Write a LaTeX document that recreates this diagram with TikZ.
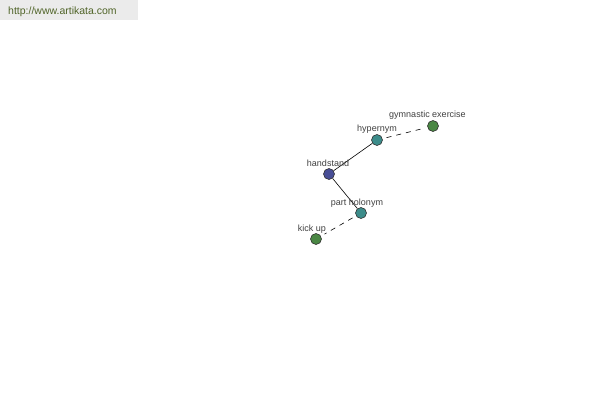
\documentclass[tikz,border=0pt]{standalone}
\usepackage{fontspec}
\setmainfont{Liberation Sans}
\begin{document}
\begin{tikzpicture}[x=1pt,y=-1pt,
  vert/.style={circle,draw=black!80,line width=0.6pt,minimum size=11pt,inner sep=0pt},
  lbl/.style={font=\fontsize{9}{10}\selectfont,text=black!75,inner sep=0pt},
  link/.style={draw=black,line width=0.6pt},
  dlink/.style={draw=black,line width=0.6pt,dash pattern=on 5pt off 5pt,shorten <=4pt,shorten >=4pt}]
\useasboundingbox (0,0) rectangle (600,400);
\fill[black!8] (0,0) rectangle (138,20);
\node[anchor=west,font=\fontsize{10.5}{11}\selectfont,text={rgb,255:red,80;green,100;blue,40},inner sep=0pt] (wm) at (8,11.5) {http://www.artikata.com};
\definecolor{cblue}{RGB}{72,78,150}
\definecolor{cteal}{RGB}{60,140,138}
\definecolor{cgreen}{RGB}{74,135,68}
\node[vert,fill=cblue] (hs) at (329,174) {};
\node[vert,fill=cteal] (hy) at (377,140) {};
\node[vert,fill=cgreen] (ge) at (433,126) {};
\node[vert,fill=cteal] (ph) at (361,213) {};
\node[vert,fill=cgreen] (ku) at (316,239) {};
\draw[link] (hs) -- (hy);
\draw[link] (hs) -- (ph);
\draw[dlink] (hy) -- (ge);
\draw[dlink] (ph) -- (ku);
\node[lbl] (lhs) at (328,163) {handstand};
\node[lbl] (lhy) at (377,129.5) {hypernym};
\node[lbl] (lge) at (427.5,115.5) {gymnastic exercise};
\node[lbl] (lph) at (357,203) {part holonym};
\node[lbl] (lku) at (312,229) {kick up};
\end{tikzpicture}
\end{document}
